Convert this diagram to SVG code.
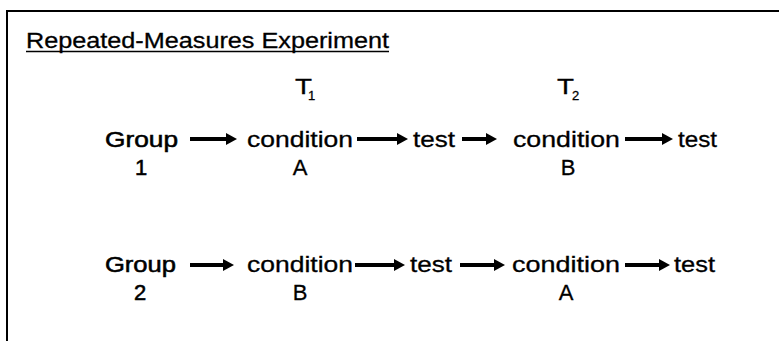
<svg xmlns="http://www.w3.org/2000/svg" width="779" height="341" viewBox="0 0 779 341">
<style>
text{font-family:"Liberation Sans",Arial,sans-serif;fill:#000;stroke:#000;stroke-width:0.3}
.t{font-size:22px}
.h{font-size:22px}
.s{font-size:13px}
.b{stroke-width:0.55}
.c{text-anchor:middle}
.a{stroke:#000;stroke-width:4;fill:none;marker-end:url(#ah)}
</style>
<defs>
<marker id="ah" markerUnits="userSpaceOnUse" viewBox="0 0 11 12" refX="0" refY="6" markerWidth="11" markerHeight="12" orient="auto">
<polygon points="0,0 11,6 0,12" fill="#000"/>
</marker>
</defs>
<rect x="7" y="11" width="790" height="350" fill="none" stroke="#000" stroke-width="2"/>
<g id="title">
<text class="h" x="26" y="48" textLength="363" lengthAdjust="spacingAndGlyphs">Repeated-Measures Experiment</text>
<line x1="26" y1="51.5" x2="389" y2="51.5" stroke="#000" stroke-width="1.5"/>
</g>
<g id="T1"><text class="t" x="295" y="94" textLength="17" lengthAdjust="spacingAndGlyphs">T</text><text class="s" x="308" y="100">1</text></g>
<g id="T2"><text class="t" x="557" y="94" textLength="17" lengthAdjust="spacingAndGlyphs">T</text><text class="s" x="572" y="100">2</text></g>
<g id="group1"><text class="t b" x="105" y="147" textLength="73" lengthAdjust="spacingAndGlyphs">Group</text><text class="t c b" x="141" y="175">1</text></g>
<g id="condA1"><text class="t" x="247" y="147" textLength="106" lengthAdjust="spacingAndGlyphs">condition</text><text class="t c" x="300" y="175">A</text></g>
<g id="test1a"><text class="t" x="413" y="147" textLength="42" lengthAdjust="spacingAndGlyphs">test</text></g>
<g id="condB1"><text class="t" x="513" y="147" textLength="107" lengthAdjust="spacingAndGlyphs">condition</text><text class="t c" x="568" y="175">B</text></g>
<g id="test1b"><text class="t" x="678" y="147" textLength="39" lengthAdjust="spacingAndGlyphs">test</text></g>
<g id="group2"><text class="t b" x="105" y="272" textLength="71" lengthAdjust="spacingAndGlyphs">Group</text><text class="t c b" x="140" y="300">2</text></g>
<g id="condB2"><text class="t" x="247" y="272" textLength="106" lengthAdjust="spacingAndGlyphs">condition</text><text class="t c" x="300" y="300">B</text></g>
<g id="test2a"><text class="t" x="410" y="272" textLength="42" lengthAdjust="spacingAndGlyphs">test</text></g>
<g id="condA2"><text class="t" x="512" y="272" textLength="108" lengthAdjust="spacingAndGlyphs">condition</text><text class="t c" x="566" y="300">A</text></g>
<g id="test2b"><text class="t" x="674" y="272" textLength="41" lengthAdjust="spacingAndGlyphs">test</text></g>
<g id="connectors">
<line class="a" x1="190" y1="139" x2="226" y2="139"/>
<line class="a" x1="357" y1="139" x2="397" y2="139"/>
<line class="a" x1="462" y1="139" x2="486" y2="139"/>
<line class="a" x1="625" y1="139" x2="662" y2="139"/>
<line class="a" x1="190" y1="265" x2="223" y2="265"/>
<line class="a" x1="355" y1="265" x2="394" y2="265"/>
<line class="a" x1="460" y1="265" x2="494" y2="265"/>
<line class="a" x1="625" y1="265" x2="659" y2="265"/>
</g>
</svg>
